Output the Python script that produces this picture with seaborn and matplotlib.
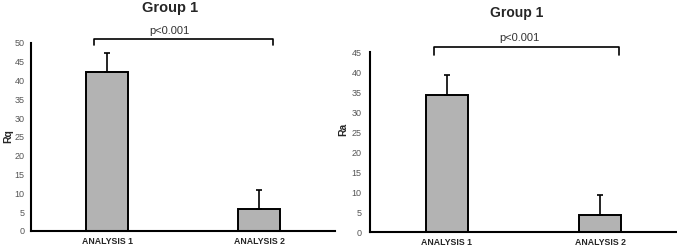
import pandas as pd
import seaborn as sns
import matplotlib.pyplot as plt

# Values
categories = ["ANALYSIS 1", "ANALYSIS 2"]
rq_mean = [42.3, 5.9]
rq_sd = [5.0, 5.0]
ra_mean = [34.2, 4.2]
ra_sd = [5.0, 5.0]
p_label = "p<0.001"
title = "Group 1"

sns.set_style("white")
plt.rcParams["font.family"] = ["Liberation Sans", "DejaVu Sans"]

W, H = 677, 248
fig = plt.figure(figsize=(W / 100, H / 100), dpi=100)


def px_axes(x0, y_top, x1, y_bot):
    return fig.add_axes([x0 / W, 1 - y_bot / H, (x1 - x0) / W, (y_bot - y_top) / H])


def draw_panel(ax, means, sds, ymax, step, bracket, pad):
    df = pd.DataFrame({"cat": categories, "val": means})
    sns.barplot(data=df, x="cat", y="val", color="#b3b3b3", edgecolor="black",
                linewidth=1.4, width=0.275, errorbar=None, saturation=1, ax=ax)
    ax.errorbar([0, 1], means, yerr=[[0, 0], sds], fmt="none", ecolor="black",
                elinewidth=1.2, capsize=2.5, capthick=1.2)
    ax.set_xlim(-0.5, 1.5)
    ax.set_ylim(0, ymax)
    ax.set_yticks(range(0, ymax + 1, step))
    ax.tick_params(axis="y", length=0, pad=pad, labelsize=6.5, labelcolor="#555555")
    ax.tick_params(axis="x", length=0, pad=4)
    for lab in ax.get_xticklabels():
        lab.set_fontweight("bold")
        lab.set_fontsize(6.3)
    ax.set_xlabel("")
    ax.set_ylabel("")
    sns.despine(ax=ax)
    for s in ["left", "bottom"]:
        ax.spines[s].set_linewidth(1.5)
        ax.spines[s].set_color("black")
    x0, x1, yt, yb = bracket
    ax.plot([x0, x0, x1, x1], [yb, yt, yt, yb], color="black", lw=1.2, clip_on=False)


ax1 = px_axes(31, 43, 335, 231)
draw_panel(ax1, rq_mean, rq_sd, 50, 5, (-0.084, 1.09, 51.1, 49.6), 4.5)
ax2 = px_axes(370, 52, 677, 232)
draw_panel(ax2, ra_mean, ra_sd, 45, 5, (-0.082, 1.12, 46.3, 44.3), 6)

fig.text(8 / W, 1 - 136 / H, "Rq", ha="center", va="center", rotation=90,
         fontsize=7.5, fontweight="bold")
fig.text(343 / W, 1 - 129 / H, "Ra", ha="center", va="center", rotation=90,
         fontsize=7.5, fontweight="bold")

fig.text(170 / W, 1 - 8 / H, title, ha="center", va="center", fontsize=10.5, fontweight="bold")
fig.text(169 / W, 1 - 31 / H, p_label, ha="center", va="center", fontsize=8, color="#333333")
fig.text(517 / W, 1 - 13 / H, title, ha="center", va="center", fontsize=10, fontweight="bold")
fig.text(519 / W, 1 - 38 / H, p_label, ha="center", va="center", fontsize=8, color="#333333")

fig.savefig("out.png", dpi=100)
